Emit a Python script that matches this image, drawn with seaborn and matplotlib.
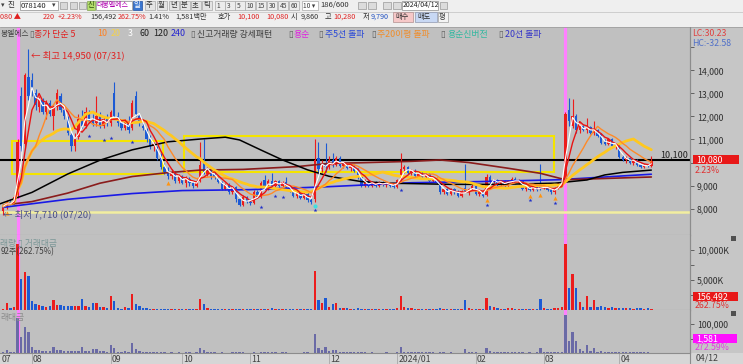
import numpy as np
import pandas as pd
import seaborn as sns
import matplotlib.pyplot as plt
from matplotlib.patches import Rectangle

W, H = 743, 364

# 대봉엘에스(078140) 일봉 2023/07/20 ~ 2024/04/12
opens = [7900, 8100, 8300, 8250, 8600, 12900, 10800, 13700,
         13600, 13000, 12400, 12700, 12200, 12600, 12000, 12400, 12900, 12300, 11900, 11200, 10700, 11100, 11900, 11600, 12200, 11800, 11700, 12000, 11600, 11900,
         11700, 13000, 12000, 11700, 11500, 11800, 11500, 12900, 12000, 11600, 11400, 11000, 10700, 10600, 10200, 9800, 9600, 9400, 9600,
         9200, 9400, 9100, 9300, 9100, 9000, 9200, 10000, 9500, 9700, 9500, 9350, 9150, 8850, 9050, 8700, 8950, 8400, 8150, 8500,
         8300, 8250, 8700, 8500, 9250, 8900, 9200, 9000, 9200, 9000, 9150, 8900, 8750, 8550, 8700, 8450, 8650, 8350, 8400, 10200, 9700, 10000,
         9800, 10100, 9900, 10200, 9850, 9950, 9750, 9850, 9700, 9350, 9000, 9200, 9000, 9150, 9000, 9150, 9050, 9100, 9000,
         8950, 9250, 9700, 9800, 9550, 9650, 9400, 9550, 9350, 9500, 9200, 9300, 9100, 8700, 8850, 8650, 8850, 8700, 8550, 8900, 8750, 8850,
         9000, 8650, 8700, 8600, 9350, 9150, 9250, 9050, 9200, 9000, 9200, 9300, 9100, 9200, 8850, 8950, 8800, 8950, 9100,
         8900, 9050, 8800, 8700, 8900, 9100, 9300, 12300, 11600, 12000, 11400, 11600, 11400, 11550, 11300, 11400, 11250, 10900, 10800, 11000, 10700,
         10750, 10250, 10100, 10200, 10000, 10100, 9900, 9800, 9900, 9860]
highs = [8150, 8350, 8400, 8600, 11000, 13300, 13900, 14950,
         13900, 13200, 12900, 12800, 12700, 12700, 12500, 13200, 13000, 12400, 12000, 11300, 11300, 12100, 12300, 12400, 12300, 12100, 12900, 12200, 12000, 12100,
         12300, 13500, 12200, 11900, 11900, 12000, 12700, 13100, 12100, 11800, 11500, 11200, 10900, 10700, 10400, 10000, 9800, 9700, 9650,
         9500, 9450, 9400, 9350, 9200, 9300, 10900, 11000, 9800, 9750, 9600, 9400, 9200, 9100, 9100, 9000, 9000, 8450, 8600, 8550,
         8400, 8800, 8800, 9200, 9450, 9300, 9550, 9250, 9250, 9200, 9350, 9000, 8800, 8800, 8750, 8700, 8700, 8450, 11000, 10900, 10100, 10850,
         10300, 10400, 10300, 10300, 10000, 10000, 9900, 9900, 9750, 9400, 9300, 9250, 9200, 9200, 9200, 9200, 9150, 9150, 9100,
         9300, 10400, 9900, 9850, 9700, 9700, 9600, 9600, 9550, 9550, 9350, 9350, 9150, 8900, 8900, 8900, 8900, 8800, 8800, 9950, 8900, 9100,
         9050, 8800, 8750, 9500, 9450, 9300, 9300, 9250, 9250, 9250, 9350, 9350, 9300, 9250, 9000, 9000, 9000, 9000, 9930,
         9100, 9100, 8900, 8950, 9150, 9350, 12200, 12800, 12750, 12100, 11700, 11650, 11950, 11600, 11800, 11450, 11300, 11000, 11050, 11050, 10800,
         10800, 10350, 10300, 10250, 10150, 10150, 10000, 9950, 9950, 10280]
lows = [7710, 8000, 8150, 8200, 8450, 10500, 10600, 12700,
        12900, 12300, 12200, 12100, 11900, 12000, 11400, 12300, 12200, 11900, 11200, 10500, 10500, 11000, 11500, 11500, 11700, 11600, 11600, 11500, 11500, 11600,
        11600, 11900, 11600, 11400, 11400, 11300, 11400, 12000, 11600, 11400, 10900, 10600, 10500, 10100, 9700, 9500, 9300, 9300, 9100,
        9100, 9050, 8950, 9000, 8900, 8950, 9150, 9500, 9400, 9300, 9300, 9100, 8800, 8800, 8650, 8650, 8300, 8100, 8100, 8250,
        8150, 8200, 8450, 8450, 8850, 8800, 8900, 8950, 8950, 8900, 8850, 8700, 8500, 8450, 8400, 8400, 8300, 8200, 8300, 9500, 9600, 9600,
        9700, 9800, 9850, 9800, 9750, 9700, 9650, 9600, 9300, 8950, 8950, 8950, 8950, 8950, 8950, 9000, 8950, 8950, 8900,
        8900, 9200, 9550, 9500, 9450, 9350, 9350, 9300, 9300, 9150, 9150, 9050, 8650, 8650, 8600, 8600, 8650, 8500, 8500, 8700, 8600, 8800,
        8600, 8550, 8500, 8550, 9100, 9100, 9000, 9000, 8950, 8950, 9100, 9050, 9050, 8800, 8750, 8750, 8750, 8750, 8800,
        8850, 8750, 8650, 8650, 8850, 9050, 9250, 11600, 11500, 11300, 11300, 11350, 11300, 11250, 11200, 11100, 10800, 10750, 10750, 10650, 10600,
        10200, 10050, 10000, 9950, 9900, 9850, 9750, 9750, 9800, 9790]
closes = [8100, 8300, 8200, 8500, 10900, 10700, 13800, 12900,
          13100, 12500, 12700, 12200, 12600, 12100, 12400, 13000, 12300, 12000, 11300, 10700, 11100, 11900, 11600, 12200, 11800, 11700, 12000, 11600, 11900, 11700,
          12200, 12000, 11700, 11500, 11800, 11400, 12600, 12100, 11700, 11500, 11000, 10700, 10800, 10200, 9800, 9600, 9400, 9600, 9200,
          9450, 9100, 9350, 9100, 9000, 9200, 9900, 9600, 9700, 9400, 9350, 9150, 8850, 9050, 8700, 8950, 8400, 8150, 8500, 8300,
          8250, 8700, 8500, 9100, 8900, 9200, 9000, 9200, 9000, 9150, 8900, 8750, 8550, 8700, 8450, 8650, 8350, 8300, 10100, 9700, 10000, 9800,
          10100, 9900, 10200, 9850, 9950, 9750, 9850, 9650, 9350, 9000, 9200, 9000, 9150, 9000, 9150, 9050, 9100, 9000, 8950,
          9250, 9700, 9800, 9550, 9650, 9400, 9550, 9350, 9500, 9200, 9300, 9100, 8700, 8850, 8650, 8850, 8700, 8550, 8750, 8750, 8850, 9000,
          8650, 8700, 8550, 9350, 9150, 9250, 9050, 9200, 9000, 9200, 9300, 9100, 9200, 8850, 8950, 8800, 8950, 8800, 8900,
          9050, 8800, 8700, 8900, 9100, 9300, 12090, 11800, 12000, 11400, 11600, 11400, 11550, 11300, 11400, 11150, 10850, 10800, 11000, 10700, 10750,
          10250, 10100, 10200, 10000, 10100, 9900, 9800, 9900, 9860, 10080]
volumes_k = [250, 1200, 400, 550, 11000, 5100, 6400, 5700,
             1500, 950, 830, 670, 550, 670, 1670, 830, 830, 670, 670, 670, 670, 670, 1830, 700, 450, 1220, 1220, 450, 550, 400,
             2330, 1500, 280, 250, 450, 300, 2670, 1000, 600, 400, 280, 220, 200, 200, 250, 200, 180, 200, 180,
             200, 180, 220, 200, 170, 200, 1780, 1000, 300, 250, 200, 180, 200, 180, 170, 200, 220, 250, 230, 180,
             170, 220, 180, 250, 230, 200, 260, 200, 180, 200, 230, 180, 200, 170, 180, 200, 220, 200, 6500, 1670, 1100, 1950,
             550, 950, 1100, 400, 350, 300, 250, 200, 300, 250, 200, 180, 200, 170, 180, 160, 200, 170, 180,
             300, 2300, 500, 350, 300, 250, 220, 200, 200, 250, 200, 180, 300, 200, 180, 200, 170, 200, 180, 1700, 300, 250,
             200, 180, 170, 2000, 600, 450, 300, 250, 200, 400, 300, 250, 200, 220, 180, 200, 170, 200, 1800,
             300, 250, 200, 350, 400, 500, 10950, 3600, 6000, 3600, 1280, 560, 2390, 500, 1610, 450, 720, 450, 400, 420, 300,
             350, 300, 280, 300, 250, 280, 300, 250, 260, 156]

# 60/120/240일 이동평균 (차트에서 읽은 값, 봉 번호 기준)
ma60_idx = [-1, 8, 18, 27, 36, 46, 55, 62, 66, 72, 78, 85, 91, 100, 108, 125, 139, 154, 163, 168, 173, 181]
ma60_val = [8200, 8700, 9500, 10100, 10550, 10900, 11020, 11100, 10980, 10540, 10110, 9680, 9400, 9170, 9100, 9050, 9050, 9100, 9240, 9460, 9570, 9670]
ma120_idx = [0, 8, 18, 27, 36, 46, 55, 67, 82, 91, 100, 114, 122, 130, 141, 150, 157, 167, 181]
ma120_val = [8150, 8300, 8670, 9100, 9390, 9560, 9670, 9700, 9820, 9960, 9990, 10050, 10110, 10000, 9750, 9530, 9250, 9300, 9370]
ma240_idx = [0, 18, 36, 50, 69, 91, 114, 133, 155, 181]
ma240_val = [8050, 8400, 8650, 8780, 8820, 8950, 9120, 9170, 9250, 9490]

# 박스권 (시작봉, 끝봉, 하단, 상단)
boxes = [(2.4, 44.6, 9490, 10935), (50.5, 153.8, 9575, 11165)]
ref_line = 10100
low_line = 7830
pink_days = [4, 157]

# 신호
star_idx = [24, 28, 30, 36, 72, 76, 78, 87, 111, 135, 147, 154]
arrow_idx = [1, 46, 135, 147, 150, 154]
cyan_idx = [87]

month_idx = [8, 30, 50, 69, 91, 110, 132, 151, 172]
month_lbl = ['08', '09', '10', '11', '12', '2024/01', '02', '03', '04']

sns.set_theme(style='white')
plt.rcParams['font.family'] = ['Noto Sans CJK KR', 'DejaVu Sans']
plt.rcParams['axes.linewidth'] = 0.8

n = len(closes)
idx = np.arange(n)
df = pd.DataFrame({'idx': idx, 'open': opens, 'high': highs, 'low': lows,
                   'close': closes, 'vol': volumes_k})
df['dir'] = np.where(df['close'] >= df['open'], 'up', 'dn')
df['amount'] = df['vol'] * df['close'] / 1000  # 백만원

RED, BLUE = '#ec1c1c', '#1c5ad4'
pal = {'up': RED, 'dn': BLUE}
BG = '#c0c0c0'

fig = plt.figure(figsize=(W / 100, H / 100), dpi=100, facecolor='#c6c6c6')


def px_axes(x0, y0, x1, y1):
    return fig.add_axes([x0 / W, 1 - y1 / H, (x1 - x0) / W, (y1 - y0) / H])


def ftext(x, y, s, **kw):
    kw.setdefault('fontsize', 6.5)
    kw.setdefault('va', 'center')
    return fig.text(x / W, 1 - y / H, s, **kw)


def frect(x, y, w, h, **kw):
    r = Rectangle((x / W, 1 - (y + h) / H), w / W, h / H, transform=fig.transFigure, **kw)
    fig.add_artist(r)
    return r


XL = (-0.92, 191.8)
ax_p = px_axes(0, 27, 690, 235)
ax_v = px_axes(0, 235, 690, 310)
ax_a = px_axes(0, 310, 690, 353)

for ax in (ax_p, ax_v, ax_a):
    ax.set_facecolor(BG)
    for s in ('top', 'left'):
        ax.spines[s].set_visible(False)
    for s in ('right', 'bottom'):
        ax.spines[s].set_color('#8c8c8c')
    ax.yaxis.tick_right()
    ax.tick_params(axis='y', which='both', direction='out', length=3, width=0.6,
                   color='#505050', labelsize=6.3, labelcolor='#303030', pad=2, left=False)
    ax.tick_params(axis='x', bottom=False, labelbottom=False)
    for d in pink_days:
        ax.axvline(d, color='#ff80ff', lw=2.3, zorder=1)

# ---- 가격 ----
ax_p.set_ylim(6848, 15891)
for (x0, x1, lo, hi) in boxes:
    ax_p.add_patch(Rectangle((x0, lo), x1 - x0, hi - lo, fill=False, ec='#f4e400', lw=1.5, zorder=2))
ax_p.axhline(ref_line, color='black', lw=1.5, zorder=2)
ax_p.axhline(low_line, color='#f2eea0', lw=1.8, zorder=2)

cols = [pal[d] for d in df['dir']]
ax_p.vlines(df['idx'], df['low'], df['high'], colors=cols, lw=0.8, zorder=3)
body_lo = np.minimum(df['open'], df['close'])
body_h = np.maximum(np.abs(df['close'] - df['open']), 35)
ax_p.bar(df['idx'], body_h, bottom=body_lo, width=0.66, color=cols, lw=0, zorder=3)

sns.lineplot(x=ma240_idx, y=ma240_val, ax=ax_p, color='#1a1ae6', lw=1.2, zorder=4)
sns.lineplot(x=ma120_idx, y=ma120_val, ax=ax_p, color='#8a1c1c', lw=1.2, zorder=4)
sns.lineplot(x=ma60_idx, y=ma60_val, ax=ax_p, color='black', lw=1.1, zorder=4)
for win, c, lw in [(20, '#ffc81e', 2.0), (10, '#ff8a28', 1.0), (5, '#e81414', 1.0), (3, 'white', 0.8)]:
    ma = df['close'].rolling(win, min_periods=1).mean()
    sns.lineplot(x=df['idx'], y=ma, ax=ax_p, color=c, lw=lw, zorder=4)

lo_arr = np.array(lows)
ax_p.scatter(star_idx, lo_arr[star_idx] * 0.955, marker='*', s=9, color='#2030c8', zorder=5, lw=0)
ax_p.scatter(arrow_idx, lo_arr[arrow_idx] * 0.978, marker='^', s=9, color='#ff9410', zorder=5, lw=0)
ax_p.scatter(cyan_idx, lo_arr[cyan_idx] * 0.975, marker='o', s=9, color='#40e0e0', zorder=5, lw=0)

ax_p.text(7.6, 14650, '← 최고 14,950 (07/31)', color='#e02020', fontsize=6.8, va='center', zorder=6)
ax_p.text(0.0, 7760, '← 최저 7,710 (07/20)', color='#4a5088', fontsize=6.8, va='center', zorder=6)

pt = [8000, 9000, 11000, 12000, 13000, 14000]
ax_p.set_yticks(pt, [f'{v:,}' for v in pt])
ax_p.set_yticks([10000, 15000], minor=True)
ax_p.set_xlim(*XL)
ax_p.set_xlabel('')
ax_p.set_ylabel('')

# ---- 거래량 ----
sns.barplot(data=df, x='idx', y='vol', hue='dir', palette=pal, native_scale=True, dodge=False,
            width=0.66, saturation=1, legend=False, linewidth=0, errorbar=None, ax=ax_v)
ax_v.set_ylim(0, 12500)
ax_v.set_yticks([5000, 10000], ['5,000K', '10,000K'])
ax_v.set_yticks([2500, 7500], minor=True)
ax_v.set_xlim(*XL)
ax_v.set_xlabel('')
ax_v.set_ylabel('')
ax_v.tick_params(axis='x', bottom=False, labelbottom=False)

# ---- 거래대금 ----
sns.barplot(data=df, x='idx', y='amount', color='#6a6aa6', native_scale=True,
            width=0.66, saturation=1, linewidth=0, errorbar=None, ax=ax_a)
ax_a.set_ylim(0, 148300)
ax_a.set_yticks([100000], ['100,000'])
ax_a.set_yticks([50000], minor=True)
ax_a.set_xlim(*XL)
ax_a.set_xlabel('')
ax_a.set_ylabel('')
ax_a.set_xticks(month_idx, [''] * len(month_idx))
ax_a.tick_params(axis='x', bottom=True, direction='out', length=11, width=0.6, color='#a8a8a8')
xt = ax_a.get_xaxis_transform()
for i, lab in zip([-0.9] + month_idx, ['07'] + month_lbl):
    ax_a.text(i + 0.3, -0.14, lab, transform=xt, fontsize=6.3, color='#404040', va='center')

# ---- 바깥 영역 ----
frect(0, 353, 743, 11, fc='#d6d6d6', ec='none', zorder=-1)
frect(0, 0, 743, 27, fc='#efefef', ec='none', zorder=1)
fig.add_artist(plt.Line2D([0, 1], [1 - 11.5 / H] * 2, transform=fig.transFigure, color='#c8c8c8', lw=0.6))
fig.add_artist(plt.Line2D([0, 1], [1 - 26.5 / H] * 2, transform=fig.transFigure, color='#a0a0a0', lw=0.6))
fig.add_artist(plt.Line2D([690 / W] * 2, [0, 1 - 27 / H], transform=fig.transFigure, color='#8c8c8c', lw=0.8))

# 1행: 종목/주기 툴바
ftext(1, 5.5, '▾', fontsize=5, color='#404040')
ftext(8, 5.5, '진', fontsize=5.5, color='#303030')
frect(20, 1, 38, 9, fc='white', ec='#8c8c8c', lw=0.5, zorder=2)
ftext(21, 5.5, '078140', fontsize=5.5, color='#202020', zorder=3)
ftext(52, 5.5, '▾', fontsize=5, color='#404040', zorder=3)
for x in (60, 70, 79):
    frect(x, 2, 7, 7, fc='#d8d8d8', ec='#9a9a9a', lw=0.5, zorder=2)
frect(87, 1, 8, 9, fc='#b4de6c', ec='#80a050', lw=0.5, zorder=2)
ftext(87.5, 5.5, '신', fontsize=5.3, color='#305010', zorder=3)
frect(96, 1, 36, 9, fc='white', ec='#8c8c8c', lw=0.5, zorder=2)
ftext(96.5, 5.5, '대봉엘에스', fontsize=5.0, color='#b000b0', zorder=3)
frect(133, 1, 9, 9, fc='#3a76d0', ec='#2050a0', lw=0.5, zorder=2)
ftext(133.5, 5.5, '일', fontsize=5.3, color='white', zorder=3)
for x, s in [(146, '주'), (158, '월'), (170, '년'), (181, '분'), (192, '초'), (203, '틱')]:
    frect(x - 1, 1, 10, 9, fc='#e4e4e4', ec='#a8a8a8', lw=0.5, zorder=2)
    ftext(x, 5.5, s, fontsize=5.3, color='#303030', zorder=3)
for x, s in [(216, '1'), (226, '3'), (236, '5'), (246, '10'), (257, '15'), (268, '30'), (279, '45'), (290, '60')]:
    frect(x - 1, 1, 10, 9, fc='#ececec', ec='#a8a8a8', lw=0.5, zorder=2)
    ftext(x + 0.5, 5.5, s, fontsize=4.8, color='#404040', zorder=3)
frect(302, 1, 16, 9, fc='white', ec='#a8a8a8', lw=0.5, zorder=2)
ftext(303, 5.5, '10 ▾', fontsize=4.8, color='#404040', zorder=3)
ftext(320, 5.5, '186/600', fontsize=5.5, color='#303030')
for x in (358, 368, 383, 393):
    frect(x, 2, 8, 7, fc='#dcdcdc', ec='#9a9a9a', lw=0.5, zorder=2)
frect(402, 1, 36, 9, fc='white', ec='#8c8c8c', lw=0.5, zorder=2)
ftext(403, 5.5, '2024/04/12', fontsize=5.0, color='#202020', zorder=3)
frect(440, 2, 7, 7, fc='#dcdcdc', ec='#9a9a9a', lw=0.5, zorder=2)

# 2행: 시세
quote = [(0, '080 ▲', '#e02020'), (43, '220', '#e02020'), (58, '+2.23%', '#e02020'),
         (90, '156,492', '#303030'), (118, '262.75%', '#e02020'), (148, '1.41%', '#303030'),
         (175, '1,581백만', '#303030'), (218, '호가', '#303030'), (237, '10,100', '#e02020'),
         (266, '10,080', '#e02020'), (291, '시', '#303030'), (301, '9,860', '#303030'),
         (325, '고', '#303030'), (333, '10,280', '#e02020'), (363, '저', '#303030'),
         (371, '9,790', '#2050c0')]
for x, s, c in quote:
    ftext(x, 17, s, fontsize=5.2, color=c, zorder=3)
frect(393, 12, 20, 10, fc='#f6c8c8', ec='#b09090', lw=0.5, zorder=2)
ftext(395, 17, '매수', fontsize=5.2, color='#303030', zorder=3)
frect(415, 12, 22, 10, fc='#c8d8f4', ec='#9098b0', lw=0.5, zorder=2)
ftext(417.5, 17, '매도', fontsize=5.2, color='#303030', zorder=3)
frect(438, 12, 10, 10, fc='#f4f4f4', ec='#a0a0a0', lw=0.5, zorder=2)
ftext(439, 17, '평', fontsize=5.2, color='#303030', zorder=3)

# 3행: 지표 범례
legend_row = [(0.5, '봉엘에스', '#404040'), (29, '▯', '#606060'), (34, '종가 단순 5', '#e02020'),
              (97, '10', '#ff8020'), (111, '20', '#f4d24a'), (128, '3', 'white'),
              (140, '60', '#202020'), (153, '120', '#202020'), (171, '240', '#2424d0'),
              (190, '▯', '#606060'), (197, '신고거래량 강세패턴', '#404040'), (288, '▯', '#606060'),
              (293, '용순', '#e020e0'), (318, '▯', '#606060'), (325, '주5선 돌파', '#2848d8'),
              (371, '▯', '#606060'), (377, '주20이평 돌파', '#f08c28'), (440, '▯', '#606060'),
              (447, '용순신버전', '#30b8a0'), (498, '▯', '#606060'), (505, '20선 돌파', '#3434c8')]
for x, s, c in legend_row:
    fs = 5.6 if s == '봉엘에스' else 6.4
    ftext(x, 34, s, fontsize=fs, color=c, zorder=3)

ftext(692, 34, 'LC:30.23', fontsize=6.3, color='#e04040', zorder=3)
ftext(692, 43, 'HC:-32.58', fontsize=6.3, color='#5070c8', zorder=3)

# 오른쪽 현재값 표시
ftext(688, 154.5, '10,100', color='#202020', ha='right', zorder=3)
frect(693, 155, 46, 9, fc='#e81818', ec='none', zorder=5)
ftext(696, 159.5, '10,080', fontsize=6.3, color='white', zorder=6)
ftext(695, 170.5, '2.23%', fontsize=6.3, color='#e03030', zorder=6)
frect(693, 292, 45, 9, fc='#e81818', ec='none', zorder=5)
ftext(696, 296.5, '156,492', fontsize=6.3, color='white', zorder=6)
ftext(695, 305, '262.75%', fontsize=6.3, color='#e03030', zorder=6)
frect(693, 334, 44, 9, fc='#ff10ff', ec='none', zorder=5)
ftext(696, 338.5, '1,581', fontsize=6.3, color='white', zorder=6)
ftext(695, 347.5, '272.59%', fontsize=6.3, color='#e040e0', zorder=6)
frect(731, 236, 5, 5, fc='#505050', ec='none', zorder=5)
frect(731, 311, 5, 5, fc='#505050', ec='none', zorder=5)
ftext(696, 358.5, '04/12', fontsize=6.3, color='#404040', zorder=3)

# 보조지표 제목
ftext(0.5, 243.5, '래량 ▯ 거래대금', fontsize=6.3, color='#7c9898', zorder=3)
ftext(0.5, 251.5, '92주(262.75%)', fontsize=5.8, color='#404040', zorder=3)
ftext(0.5, 317.5, '래대금', fontsize=6.3, color='#8c8c8c', zorder=3)

fig.savefig('out.png', dpi=100, facecolor=fig.get_facecolor())
